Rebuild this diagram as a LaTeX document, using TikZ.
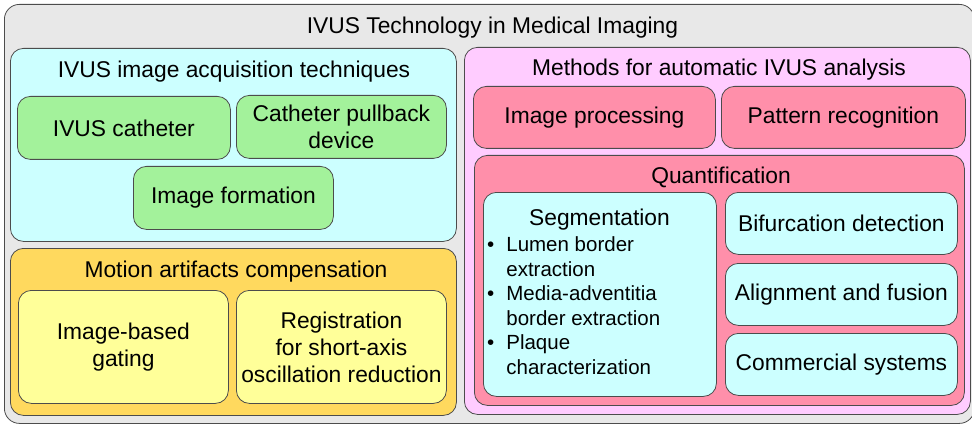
\documentclass[tikz,border=0pt]{standalone}
\usepackage{fontspec}
\setmainfont{Liberation Sans}

\definecolor{outergray}{HTML}{E8E8E8}
\definecolor{acqcyan}{HTML}{CCFFFF}
\definecolor{acqgreen}{HTML}{A3F29B}
\definecolor{motorange}{HTML}{FFD95E}
\definecolor{motyellow}{HTML}{FFFF99}
\definecolor{methpink}{HTML}{FFCCFF}
\definecolor{methrose}{HTML}{FF8FAA}

\newcommand{\bigfont}{\fontsize{22.8}{27}\selectfont}
\newcommand{\listfont}{\fontsize{20.5}{24.5}\selectfont}

\begin{document}

\begin{tikzpicture}[x=1pt, y=-1pt, font=\bigfont]
    \tikzstyle{box}=[draw=black!70, line width=0.8pt, rounded corners=13pt,
                     anchor=north west, inner sep=0pt, align=center]
    \tikzstyle{title}=[anchor=base, inner sep=0pt]

    \useasboundingbox (0,0) rectangle (972,425);

    % Draw the outer frame
    \node[box, fill=outergray, rounded corners=15pt, minimum width=970pt, minimum height=419pt] (ivus) at (4,4) {};
    \node[title] (ivus-t) at (492.5,33.5) {IVUS Technology in Medical Imaging};

    % Acquisition techniques
    \node[box, fill=acqcyan, minimum width=446pt, minimum height=193pt] (acq) at (10,48) {};
    \node[title] (acq-t) at (234,77.5) {IVUS image acquisition techniques};
    \node[box, fill=acqgreen, minimum width=213pt, minimum height=63pt] (cath) at (17,96) {IVUS catheter};
    \node[box, fill=acqgreen, minimum width=210pt, minimum height=63pt] (pull) at (236,95) {Catheter pullback\\device};
    \node[box, fill=acqgreen, minimum width=200pt, minimum height=63pt] (form) at (133,166) {Image formation};

    % Motion artifacts compensation
    \node[box, fill=motorange, minimum width=446pt, minimum height=167pt] (mot) at (10,248) {};
    \node[title] (mot-t) at (236,277.5) {Motion artifacts compensation};
    \node[box, fill=motyellow, minimum width=210pt, minimum height=113pt] (gate) at (18,290) {Image-based\\gating};
    \node[box, fill=motyellow, minimum width=210pt, minimum height=113pt] (reg) at (236,290) {Registration\\for short-axis\\oscillation reduction};

    % Methods for automatic analysis
    \node[box, fill=methpink, minimum width=506pt, minimum height=367pt] (meth) at (464,47) {};
    \node[title] (meth-t) at (719,76) {Methods for automatic IVUS analysis};
    \node[box, fill=methrose, minimum width=242pt, minimum height=62pt] (proc) at (473,86) {Image processing};
    \node[box, fill=methrose, minimum width=244pt, minimum height=62pt] (patt) at (721,86) {Pattern recognition};

    % Quantification and its parts
    \node[box, fill=methrose, minimum width=490pt, minimum height=250pt] (quant) at (474,155) {};
    \node[title] (quant-t) at (721,183.5) {Quantification};
    \node[box, fill=acqcyan, minimum width=233pt, minimum height=204pt] (seg) at (483,192) {};
    \node[title] (seg-t) at (599.5,225.7) {Segmentation};
    \node[anchor=base west, inner sep=0pt, font=\listfont] (seg-list) at (487,251.7)
        {\begin{tabular}[t]{@{}l@{\hspace{12pt}}l@{}}
         \textbullet & Lumen border\\
                     & extraction\\
         \textbullet & Media-adventitia\\
                     & border extraction\\
         \textbullet & Plaque\\
                     & characterization
         \end{tabular}};

    \foreach \name / \y / \txt in {bif/192/Bifurcation detection, ali/263/Alignment and fusion, com/333/Commercial systems}
        \node[box, fill=acqcyan, minimum width=232pt, minimum height=62pt] (\name) at (725,\y) {\txt};
\end{tikzpicture}

\end{document}
